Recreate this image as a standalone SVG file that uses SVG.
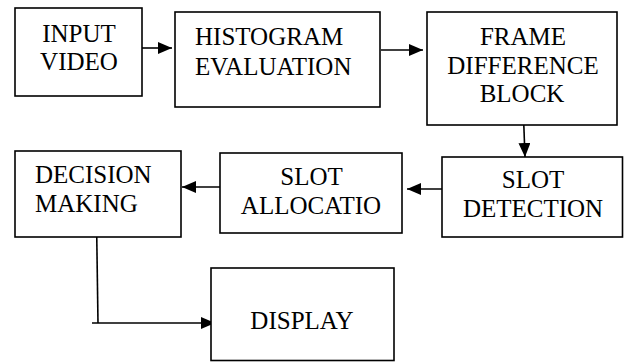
<svg xmlns="http://www.w3.org/2000/svg" width="624" height="362" viewBox="0 0 624 362">
<style>
.box{fill:#fff;stroke:#000;stroke-width:1.6}
.ln{stroke:#000;stroke-width:1.6;fill:none}
</style>
<defs>
<marker id="ah2" markerWidth="14" markerHeight="12" refX="14" refY="6" orient="auto" markerUnits="userSpaceOnUse" viewBox="0 0 14 12">
<path d="M0,0 L14,6 L0,12 Z" fill="#000"/>
</marker>
</defs>
<rect width="624" height="362" fill="#fff"/>
<g id="connectors">
<line class="ln" x1="142" y1="48" x2="172" y2="48" marker-end="url(#ah2)"/>
<line class="ln" x1="381" y1="50" x2="423" y2="50" marker-end="url(#ah2)"/>
<line class="ln" x1="523" y1="103" x2="525" y2="157" marker-end="url(#ah2)"/>
<line class="ln" x1="442" y1="189" x2="407" y2="189" marker-end="url(#ah2)"/>
<line class="ln" x1="220" y1="187" x2="182" y2="187" marker-end="url(#ah2)"/>
<polyline class="ln" points="96.5,219 98,323"/>
<line class="ln" x1="92" y1="323" x2="215" y2="323" marker-end="url(#ah2)"/>
</g>
<g id="input-video">
<rect class="box" x="15" y="8" width="127" height="88"/>
<text font-family="Liberation Serif, serif" font-size="25" text-anchor="middle" x="79" y="42">INPUT</text>
<text font-family="Liberation Serif, serif" font-size="25" text-anchor="middle" x="79" y="70">VIDEO</text>
</g>
<g id="histogram-evaluation">
<rect class="box" x="175" y="12" width="205" height="95"/>
<text font-family="Liberation Serif, serif" font-size="25" x="195" y="45">HISTOGRAM</text>
<text font-family="Liberation Serif, serif" font-size="25" x="195" y="75">EVALUATION</text>
</g>
<g id="frame-difference-block">
<rect class="box" x="427" y="12" width="190" height="113"/>
<text font-family="Liberation Serif, serif" font-size="25" text-anchor="middle" x="523" y="45">FRAME</text>
<text font-family="Liberation Serif, serif" font-size="25" text-anchor="middle" x="523" y="74">DIFFERENCE</text>
<text font-family="Liberation Serif, serif" font-size="25" text-anchor="middle" x="522" y="102">BLOCK</text>
</g>
<g id="slot-detection">
<rect class="box" x="442" y="157" width="180.5" height="80"/>
<text font-family="Liberation Serif, serif" font-size="25" text-anchor="middle" x="533" y="188">SLOT</text>
<text font-family="Liberation Serif, serif" font-size="25" text-anchor="middle" x="533" y="217">DETECTION</text>
</g>
<g id="slot-allocatio">
<rect class="box" x="220" y="153" width="182" height="80"/>
<text font-family="Liberation Serif, serif" font-size="25" text-anchor="middle" x="311.5" y="185">SLOT</text>
<text font-family="Liberation Serif, serif" font-size="25" text-anchor="middle" x="311" y="214">ALLOCATIO</text>
</g>
<g id="decision-making">
<rect class="box" x="15" y="151" width="166" height="86"/>
<text font-family="Liberation Serif, serif" font-size="25" x="35" y="183">DECISION</text>
<text font-family="Liberation Serif, serif" font-size="25" x="35" y="212">MAKING</text>
</g>
<g id="display">
<rect class="box" x="211" y="268" width="183" height="92.5"/>
<text font-family="Liberation Serif, serif" font-size="25" text-anchor="middle" x="302" y="329">DISPLAY</text>
</g>
</svg>
